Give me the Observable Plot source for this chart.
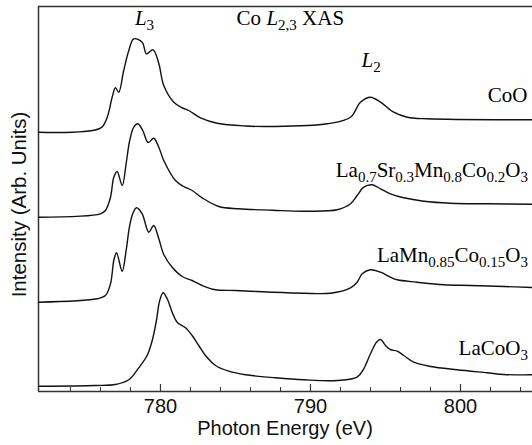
<!DOCTYPE html>
<html>
<head>
<meta charset="utf-8">
<script src="https://cdn.jsdelivr.net/npm/d3@7"></script>
<script src="https://cdn.jsdelivr.net/npm/@observablehq/plot@0.6"></script>
<style>
  html, body { margin: 0; padding: 0; background: #fff; }
</style>
</head>
<body>
<div id="chart"></div>
<script>
// ---- Data (photon energy in eV, intensity in arbitrary units, stacked) ----
const seriesNames = ["CoO", "La0.7Sr0.3Mn0.8Co0.2O3", "LaMn0.85Co0.15O3", "LaCoO3"];

const energyCoO = [771.87, 776.0, 776.45, 776.78, 777.0, 777.22, 777.55, 777.89, 778.22, 778.78, 779.07, 779.51, 779.89, 780.22, 780.89, 781.45, 781.89, 782.67, 783.78, 785.67, 787.33, 791.11, 792.67, 793.33, 794.0, 794.67, 795.55, 796.45, 797.78, 804.8];
const intensityCoO = [259.3, 263.3, 274.3, 294.3, 303.7, 299.3, 321, 341, 352.7, 349.3, 337.7, 341.7, 328, 306, 289.3, 283.7, 281, 273.7, 268.3, 265.5, 265, 267.7, 274.3, 289.3, 294.3, 289.3, 279.3, 274.3, 272.7, 271.7];

const energyLSMCO = [771.87, 776.0, 776.33, 776.67, 776.89, 777.11, 777.45, 777.71, 777.95, 778.22, 778.49, 778.82, 779.18, 779.55, 779.89, 780.22, 781.0, 781.55, 782.11, 782.78, 783.89, 785.22, 787.47, 789.55, 791.78, 792.67, 793.11, 793.55, 794.11, 794.67, 795.33, 796.22, 797.55, 799.33, 801.78, 804.8];
const intensityLSMCO = [174.3, 177.7, 181, 194.3, 214.3, 220, 206, 227.7, 251, 264.3, 267.7, 261, 249, 253.3, 244.3, 231, 211, 205, 201, 193.7, 185, 182.7, 181.3, 180.3, 181.7, 187.7, 196, 204.3, 206.7, 202.7, 197.7, 193.7, 190.3, 188.3, 187.7, 187.3];

const energyLMCO = [771.87, 775.78, 776.33, 776.67, 776.89, 777.07, 777.45, 777.71, 777.93, 778.15, 778.4, 778.78, 779.22, 779.55, 779.89, 780.22, 780.78, 781.45, 782.11, 782.78, 783.67, 785.0, 787.45, 789.55, 791.33, 792.67, 793.11, 793.45, 794.0, 794.67, 795.33, 795.78, 797.11, 798.89, 800.67, 802.89, 804.8];
const intensityLMCO = [89.3, 92.7, 96, 107.7, 131, 138.7, 120.3, 141, 164.3, 177.7, 183.7, 177.7, 159.3, 166, 152.7, 137, 124.3, 115, 111, 106, 101.7, 101, 99.3, 98.3, 98.3, 103.7, 109.3, 117.7, 121.7, 119.3, 114.3, 111.7, 109.3, 106.7, 106, 105, 104];

const energyLCO = [771.87, 775.67, 777.0, 777.89, 778.55, 779.11, 779.45, 779.73, 779.95, 780.18, 780.45, 780.78, 781.11, 781.67, 782.11, 782.55, 783.0, 783.67, 784.55, 785.67, 787.67, 789.55, 791.78, 793.11, 793.55, 794.0, 794.4, 794.67, 795.0, 795.33, 795.78, 796.22, 796.89, 798.0, 799.78, 801.78, 802.89, 804.8];
const intensityLCO = [5.3, 6, 7, 11.7, 23.7, 36, 51, 71, 91, 98.7, 92.7, 79.3, 69.3, 63.7, 56, 46, 36, 26, 20.3, 16.7, 13.7, 11.7, 11, 14.3, 22.7, 37.7, 49.3, 52, 46, 42, 40.3, 36, 29.3, 25, 21.7, 18.7, 17, 16.7];

const majorTicks = [780, 790, 800];
const minorTicks = [774, 776, 778, 782, 784, 786, 788, 792, 794, 796, 798, 802, 804];

// Series labels (rich text parts: [text, style])
const seriesLabelParts = [
  [["CoO", ""]],
  [["La", ""], ["0.7", "sub"], ["Sr", ""], ["0.3", "sub"], ["Mn", ""], ["0.8", "sub"], ["Co", ""], ["0.2", "sub"], ["O", ""], ["3", "sub"]],
  [["La", ""], ["Mn", ""], ["0.85", "sub"], ["Co", ""], ["0.15", "sub"], ["O", ""], ["3", "sub"]],
  [["La", ""], ["Co", ""], ["O", ""], ["3", "sub"]]
];
const seriesLabelEnergy = [804.5, 804.53, 804.53, 804.53];
const seriesLabelIntensity = [289.3, 214.3, 129, 36];

// Edge annotations
const annotParts = [
  [["L", "it"], ["3", "sub"]],
  [["Co ", ""], ["L", "it"], ["2,3", "sub"], [" XAS", ""]],
  [["L", "it"], ["2", "sub"]]
];
const annotEnergy = [778.33, 785.11, 793.44];
const annotIntensity = [366, 366, 324.3];

// ---- Build table ----
const energies = [energyCoO, energyLSMCO, energyLMCO, energyLCO];
const intensities = [intensityCoO, intensityLSMCO, intensityLMCO, intensityLCO];
const rows = [];
seriesNames.forEach((name, i) => {
  energies[i].forEach((e, j) => rows.push({series: name, energy: e, intensity: intensities[i][j]}));
});

const xDomain = [771.87, 804.8];
const yDomain = [0, 385];
const frameColor = "#333";

const plot = Plot.plot({
  width: 532,
  height: 445,
  marginLeft: 38,
  marginRight: 0,
  marginTop: 6,
  marginBottom: 54,
  style: {fontFamily: "'Liberation Sans', Arial, sans-serif", fontSize: "20px", background: "#fff", color: "#111"},
  x: {domain: xDomain},
  y: {domain: yDomain, axis: null},
  marks: [
    Plot.ruleX([xDomain[0]], {stroke: frameColor, strokeWidth: 1.5}),
    Plot.ruleY([yDomain[0]], {stroke: frameColor, strokeWidth: 1.5}),
    Plot.ruleY([yDomain[1]], {stroke: frameColor, strokeWidth: 1.5}),
    Plot.ruleX(minorTicks, {y1: 0, y2: 4, stroke: frameColor, strokeWidth: 1}),
    Plot.ruleX(majorTicks, {y1: 0, y2: 7, stroke: frameColor, strokeWidth: 1.2}),
    Plot.axisX({ticks: majorTicks, tickSize: 0, tickPadding: 7, tickFormat: d => String(d), label: null, fontSize: 20}),
    Plot.line(rows, {x: "energy", y: "intensity", z: "series", stroke: "#111", strokeWidth: 1.4, curve: "catmull-rom"})
  ]
});

const sx = plot.scale("x");
const sy = plot.scale("y");
const svg = d3.select(plot);

function richText(parts, x, y, anchor) {
  const t = svg.append("text")
    .attr("x", x).attr("y", y)
    .attr("text-anchor", anchor)
    .attr("font-family", "'Liberation Serif', 'Times New Roman', serif")
    .attr("font-size", 21)
    .attr("fill", "#000");
  let shifted = 0;
  parts.forEach(([txt, kind]) => {
    const ts = t.append("tspan").text(txt);
    if (kind === "sub") {
      ts.attr("font-size", 15).attr("dy", 5 - shifted);
      shifted = 5;
    } else {
      if (shifted) ts.attr("dy", -shifted);
      shifted = 0;
      if (kind === "it") ts.attr("font-style", "italic");
    }
  });
  return t;
}

seriesLabelParts.forEach((parts, i) => {
  richText(parts, sx.apply(seriesLabelEnergy[i]), sy.apply(seriesLabelIntensity[i]), "end");
});
annotParts.forEach((parts, i) => {
  richText(parts, sx.apply(annotEnergy[i]), sy.apply(annotIntensity[i]), "start");
});

// Axis titles
svg.append("text")
  .attr("x", (sx.range[0] + sx.range[1]) / 2)
  .attr("y", 435)
  .attr("text-anchor", "middle")
  .attr("font-family", "'Liberation Sans', Arial, sans-serif")
  .attr("font-size", 20)
  .attr("fill", "#111")
  .text("Photon Energy (eV)");

svg.append("text")
  .attr("transform", `translate(26,${(sy.range[0] + sy.range[1]) / 2 + 6}) rotate(-90)`)
  .attr("text-anchor", "middle")
  .attr("font-family", "'Liberation Sans', Arial, sans-serif")
  .attr("font-size", 20.5)
  .attr("fill", "#111")
  .text("Intensity (Arb. Units)");

document.getElementById("chart").appendChild(plot);
</script>
</body>
</html>
